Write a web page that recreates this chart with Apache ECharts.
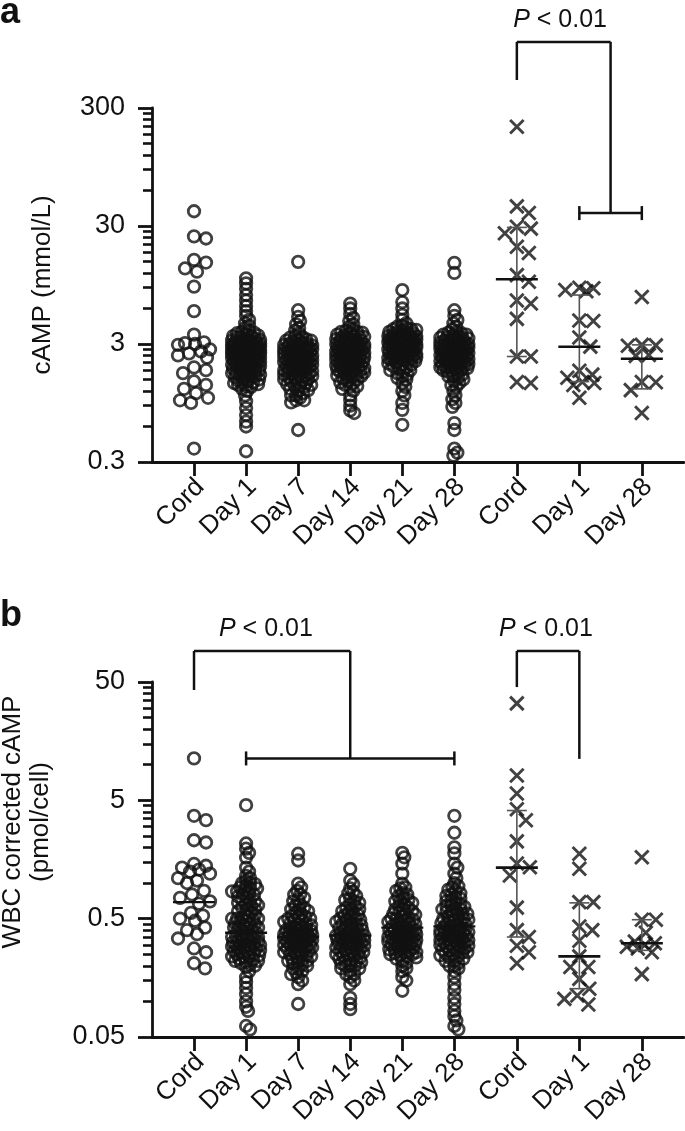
<!DOCTYPE html>
<html><head><meta charset="utf-8">
<script src="https://cdn.jsdelivr.net/npm/echarts@6/dist/echarts.min.js"></script>
<style>html,body{margin:0;padding:0;background:#fff}#c{width:685px;height:1131px}</style>
</head><body><div id="c"></div>
<script>
// ---------- data ----------
const categories = ['Cord','Day 1','Day 7','Day 14','Day 21','Day 28','Cord','Day 1','Day 28'];
const catPos = [0,1,2,3,4,5,6.2,7.4,8.6];
const yTicksA = [0.3,3,30,300];
const yTickLabelsA = ['0.3','3','30','300'];
const yTicksB = [0.05,0.5,5,50];
const yTickLabelsB = ['0.05','0.5','5','50'];
const yNameA = 'cAMP (mmol/L)';
const yNameB = 'WBC corrected cAMP\n(pmol/cell)';
const pText = 'P < 0.01';

// Panel a: cAMP (mmol/L), open circles
const aCord = [40,24.5,23.5,15.5,14.7,13.1,12.3,9.2,5.7,3.6,3.1,3.05,3.0,2.95,2.7,2.6,2.5,2.4,2.3,1.9,1.8,1.7,1.45,1.35,1.25,1.15,1.05,1.0,0.95,0.39];
const aDay1 = [10.8,9.8,8.8,7.8,7.0,6.3,5.7,5.2,4.8,4.5,4.3,4.1,3.9,3.8,3.7,3.6,3.5,3.45,3.4,3.3,3.25,3.2,3.15,3.1,3.05,3.0,2.95,2.9,2.85,2.8,2.75,2.7,2.65,2.6,2.55,2.5,2.45,2.4,2.35,2.3,2.25,2.2,2.15,2.1,2.05,2.0,1.95,1.9,1.85,1.8,1.75,1.7,1.65,1.6,1.55,1.5,1.45,1.4,1.35,1.3,1.25,1.2,1.1,0.98,0.86,0.75,0.66,0.6,0.37,3.0,2.9,2.8,2.7,2.6,2.5,2.4,2.3,2.2,2.1,2.0,1.9,1.8,2.75,2.45,2.15,3.2,3.5,1.6,1.4,2.55,2.35,1.7,
  3.75,3.55,3.35,3.22,3.12,3.02,2.97,2.92,2.87,2.82,2.77,2.72,2.67,2.62,2.57,2.52,2.47,2.42,2.37,2.32,2.27,2.22,2.17,2.12,2.07,2.02,1.97,1.92,1.87,1.82,1.77,1.72,1.67,1.62,1.57,1.52,1.47,1.42,1.37,1.32];
const aDay7 = [14.9,5.8,5.1,4.7,4.4,4.1,3.9,3.7,3.5,3.4,3.3,3.2,3.1,3.0,2.95,2.9,2.85,2.8,2.75,2.7,2.65,2.6,2.55,2.5,2.45,2.4,2.35,2.3,2.25,2.2,2.15,2.1,2.05,2.0,1.95,1.9,1.85,1.8,1.75,1.7,1.65,1.6,1.55,1.5,1.45,1.4,1.35,1.3,1.25,1.2,1.15,1.1,1.05,1.0,0.96,0.56,3.0,2.8,2.6,2.4,2.2,2.0,1.8,2.7,2.3,1.9,2.5,2.1,1.6,1.3,1.1,1.0,3.2,1.7,
  3.45,3.25,3.12,3.02,2.92,2.82,2.72,2.62,2.57,2.52,2.42,2.37,2.32,2.27,2.22,2.17,2.12,2.07,2.02,1.97,1.92,1.87,1.82,1.77,1.72,1.67,1.62,1.57,1.52,1.47,1.42,1.37,1.32,1.22,2.47,2.67];
const aDay14 = [6.6,6.0,5.4,5.0,4.7,4.4,4.2,4.0,3.9,3.8,3.7,3.6,3.5,3.4,3.3,3.2,3.1,3.0,2.95,2.9,2.85,2.8,2.75,2.7,2.65,2.6,2.55,2.5,2.45,2.4,2.35,2.3,2.25,2.2,2.15,2.1,2.05,2.0,1.95,1.9,1.85,1.8,1.75,1.7,1.65,1.6,1.55,1.5,1.45,1.4,1.35,1.3,1.25,1.2,1.1,1.0,0.9,0.82,0.78,3.5,3.2,3.0,2.8,2.6,2.4,2.2,2.0,1.8,1.6,2.9,2.7,2.5,2.3,2.1,1.9,3.8,1.7,3.3,
  3.75,3.55,3.45,3.35,3.25,3.15,3.05,2.97,2.92,2.87,2.82,2.77,2.72,2.67,2.62,2.57,2.52,2.47,2.42,2.37,2.32,2.27,2.22,2.17,2.12,2.07,2.02,1.97,1.92,1.87,1.82,1.77,1.72,1.62,1.52,1.42,1.32];
const aDay21 = [8.6,6.8,6.0,5.3,4.8,4.5,4.3,4.1,4.0,3.9,3.8,3.7,3.6,3.5,3.45,3.4,3.35,3.3,3.25,3.2,3.15,3.1,3.05,3.0,2.95,2.9,2.85,2.8,2.75,2.7,2.65,2.6,2.55,2.5,2.45,2.4,2.35,2.3,2.25,2.2,2.1,2.0,1.9,1.8,1.7,1.6,1.5,1.4,1.3,1.2,1.1,0.95,0.83,0.62,3.5,3.3,3.1,2.9,2.7,2.5,2.3,3.8,3.0,2.8,2.6,2.4,2.2,2.0,1.8,3.2,3.6,4.0,2.1,
  4.2,3.95,3.75,3.65,3.55,3.42,3.37,3.32,3.27,3.22,3.17,3.12,3.07,3.02,2.97,2.92,2.87,2.82,2.77,2.72,2.67,2.62,2.57,2.52,2.47,2.42,2.37,2.32,2.27,2.22,2.15,2.05,1.95,1.85,1.75,1.65,1.55];
const aDay28 = [14.6,12.0,5.8,5.2,4.8,4.5,4.2,4.0,3.8,3.7,3.6,3.5,3.4,3.3,3.2,3.1,3.0,2.95,2.9,2.85,2.8,2.75,2.7,2.65,2.6,2.55,2.5,2.45,2.4,2.35,2.3,2.25,2.2,2.15,2.1,2.05,2.0,1.95,1.9,1.85,1.8,1.7,1.6,1.5,1.4,1.3,1.2,1.1,1.02,0.95,0.88,0.64,0.56,0.39,0.36,0.34,3.4,3.2,3.0,2.8,2.6,2.4,2.2,2.0,3.0,2.7,2.5,2.3,2.1,1.9,3.6,1.8,1.6,
  3.75,3.55,3.45,3.35,3.25,3.15,3.05,2.97,2.92,2.87,2.82,2.77,2.72,2.67,2.62,2.57,2.52,2.47,2.42,2.37,2.32,2.27,2.22,2.17,2.12,2.07,2.02,1.97,1.92,1.87,1.82,1.75,1.65,1.55,1.45,1.35];
// Panel a: crosses (second cohort)
const aCordX = [208,44,38.7,29.6,28.5,26,20,17.7,11.5,10.1,7.0,6.6,4.9,2.35,2.35,1.4,1.43];
const aDay1X = [9.0,8.9,8.6,8.4,4.75,4.7,3.4,2.85,1.78,1.65,1.55,1.43,1.4,1.35,1.05];
const aDay28X = [7.5,2.95,2.92,2.9,2.42,2.38,1.43,1.42,1.22,0.78];
// medians with interquartile range [position, median, low, high]
const aSummary = [[6.2,10.6,2.35,29.2],[7.4,2.84,1.44,7.8],[8.6,2.25,1.25,2.95]];

// Panel b: WBC corrected cAMP (pmol/cell)
const bCord = [11.3,3.7,3.4,2.3,2.2,1.45,1.4,1.35,1.3,1.25,1.2,1.1,1.05,1.0,0.86,0.8,0.75,0.7,0.67,0.56,0.53,0.5,0.48,0.42,0.4,0.37,0.34,0.28,0.26,0.21,0.19];
const bDay1 = [4.55,2.16,1.95,1.8,1.64,1.35,1.25,1.15,1.1,1.05,1.0,0.95,0.9,0.85,0.8,0.75,0.7,0.66,0.62,0.58,0.55,0.52,0.5,0.48,0.46,0.44,0.42,0.4,0.38,0.36,0.35,0.34,0.32,0.31,0.3,0.29,0.28,0.27,0.26,0.25,0.24,0.23,0.22,0.21,0.2,0.18,0.16,0.145,0.13,0.115,0.1,0.09,0.083,0.062,0.058,1.0,0.9,0.8,0.7,0.6,0.5,0.45,0.4,0.35,0.3,0.28,0.26,0.24,0.5,0.42,0.36,0.32,0.3,0.22,0.85,0.65,
  0.98,0.92,0.87,0.82,0.77,0.72,0.68,0.64,0.6,0.57,0.54,0.51,0.49,0.47,0.45,0.43,0.41,0.39,0.37,0.355,0.345,0.335,0.325,0.315,0.305,0.295,0.285,0.275,0.265,0.255,0.245,0.235,0.225,0.215,0.205,0.195];
const bDay7 = [1.77,1.55,0.99,0.92,0.86,0.8,0.75,0.7,0.66,0.62,0.58,0.55,0.52,0.5,0.48,0.46,0.44,0.42,0.4,0.39,0.38,0.37,0.36,0.35,0.34,0.33,0.32,0.31,0.3,0.29,0.28,0.27,0.26,0.25,0.24,0.23,0.22,0.21,0.2,0.19,0.18,0.17,0.16,0.15,0.14,0.095,0.5,0.45,0.4,0.36,0.33,0.3,0.27,0.25,0.42,0.38,0.35,0.32,0.29,0.6,0.22,0.8,
  0.72,0.64,0.6,0.56,0.53,0.51,0.49,0.47,0.45,0.43,0.41,0.395,0.385,0.375,0.365,0.355,0.345,0.335,0.325,0.315,0.305,0.295,0.285,0.275,0.265,0.255,0.245,0.235,0.225,0.215,0.205,0.19,0.175];
const bDay14 = [1.32,1.05,0.98,0.9,0.84,0.78,0.72,0.68,0.64,0.6,0.56,0.53,0.5,0.48,0.46,0.44,0.42,0.4,0.38,0.36,0.35,0.34,0.33,0.32,0.31,0.3,0.29,0.28,0.27,0.26,0.25,0.24,0.23,0.22,0.21,0.2,0.19,0.18,0.17,0.16,0.15,0.14,0.107,0.095,0.086,0.55,0.5,0.45,0.4,0.37,0.34,0.31,0.28,0.25,0.22,0.6,0.42,0.36,0.3,0.26,0.7,0.2,
  0.82,0.74,0.66,0.62,0.58,0.54,0.51,0.49,0.47,0.45,0.43,0.41,0.39,0.375,0.365,0.355,0.345,0.335,0.325,0.315,0.305,0.295,0.285,0.275,0.265,0.255,0.245,0.235,0.225,0.215,0.205,0.19,0.17];
const bDay21 = [1.8,1.65,1.46,1.2,0.99,0.92,0.86,0.8,0.75,0.7,0.66,0.62,0.58,0.55,0.52,0.5,0.48,0.46,0.44,0.42,0.4,0.39,0.38,0.37,0.36,0.35,0.34,0.33,0.32,0.31,0.3,0.29,0.28,0.27,0.26,0.25,0.24,0.23,0.22,0.2,0.18,0.16,0.15,0.123,0.6,0.55,0.5,0.45,0.42,0.4,0.38,0.35,0.32,0.3,0.28,0.26,0.48,0.36,0.33,0.7,0.25,
  0.9,0.82,0.77,0.72,0.68,0.64,0.6,0.57,0.54,0.51,0.49,0.47,0.45,0.43,0.41,0.395,0.385,0.375,0.365,0.355,0.345,0.335,0.325,0.315,0.305,0.295,0.285,0.275,0.265,0.255,0.245,0.235,0.21,0.19];
const bDay28 = [3.7,2.66,2.0,1.78,1.46,1.35,1.2,1.1,1.0,0.94,0.88,0.82,0.78,0.74,0.7,0.66,0.63,0.6,0.57,0.55,0.52,0.5,0.48,0.46,0.44,0.42,0.4,0.39,0.38,0.37,0.36,0.35,0.34,0.33,0.32,0.31,0.3,0.29,0.28,0.27,0.26,0.25,0.24,0.23,0.22,0.21,0.2,0.19,0.18,0.16,0.14,0.125,0.107,0.095,0.083,0.075,0.069,0.062,0.058,0.6,0.55,0.5,0.45,0.42,0.4,0.37,0.35,0.33,0.3,0.28,0.48,0.38,0.65,0.26,
  0.92,0.85,0.8,0.76,0.72,0.68,0.64,0.61,0.58,0.56,0.53,0.51,0.49,0.47,0.45,0.43,0.41,0.395,0.385,0.375,0.365,0.355,0.345,0.335,0.325,0.315,0.305,0.295,0.285,0.275,0.265,0.255,0.245,0.235,0.22,0.2];
const bCordX = [33,8.1,5.7,4.2,3.4,2.25,1.46,1.36,1.16,0.62,0.4,0.35,0.295,0.26,0.21];
const bDay1X = [1.77,1.32,0.69,0.69,0.43,0.4,0.325,0.24,0.195,0.195,0.155,0.128,0.112,0.105,0.094];
const bDay28X = [1.65,0.49,0.49,0.38,0.32,0.31,0.3,0.29,0.28,0.26,0.17];
const bSummary = [[6.2,1.35,0.35,4.1],[7.4,0.24,0.128,0.68],[8.6,0.31,0.27,0.49]];
const bMedians = [[0,0.69],[1,0.38],[2,0.35],[3,0.36],[4,0.42],[5,0.43]];

// significance brackets: segments [x1, y1, x2, y2, endCaps]
const bracketA = [[6.2,518,6.2,1090,0],[6.2,1090,8.0,1090,0],[8.0,1090,8.0,38.6,0],[7.4,38.6,8.6,38.6,1]];
const bracketB1 = [[0,42.8,0,91.4,0],[0,91.4,3,91.4,0],[3,91.4,3,11.3,0],[1,11.3,5,11.3,1]];
const bracketB2 = [[6.2,45.3,6.2,91.4,0],[6.2,91.4,7.4,91.4,0],[7.4,91.4,7.4,11.2,0]];
const pLabelA = [7.03];
const pLabelB = [1.38, 6.76];

// ---------- chart ----------
const FONT = '"Liberation Sans", Arial, Helvetica, sans-serif';
const INK = '#111';
const LABEL_SHIFT = 0.12; // category label anchor sits slightly right of its tick
const chart = echarts.init(document.getElementById('c'), null, {renderer:'canvas'});
const L10 = Math.log10;
function minors(ticks){const m=[];for(let i=0;i<ticks.length-1;i++){for(let k=2;k<=9;k++)m.push(L10(ticks[i]*k));}return m;}
function labelFmt(ticks, labels){return v=>{for(let i=0;i<ticks.length;i++){if(Math.abs(L10(ticks[i])-v)<1e-6)return labels[i];}return '';};}

const grids = [
  {left:152, right:1, top:108, bottom:669},
  {left:152, right:1, top:682, bottom:94}
];
function xAxisFor(g){
  const labelPos = catPos.map(p=>p+LABEL_SHIFT);
  return {type:'value', gridIndex:g, min:-0.807, max:9.41, position:'bottom',
    axisLine:{show:true, onZero:false, lineStyle:{color:INK, width:2.8}},
    axisTick:{show:true, customValues:catPos, length:14, lineStyle:{color:INK, width:2.8}},
    axisLabel:{show:true, customValues:labelPos, rotate:45, margin:21, fontSize:26, fontFamily:FONT, color:INK,
      formatter:v=>{const i=labelPos.findIndex(p=>Math.abs(p-v)<1e-6);return i>=0?categories[i]:'';}},
    splitLine:{show:false}};
}
function yAxesFor(g, ticks, labels){
  const lo=ticks[0], hi=ticks[ticks.length-1];
  return [
    {type:'log', logBase:10, gridIndex:g, min:lo, max:hi, position:'left',
      axisLine:{show:true, onZero:false, lineStyle:{color:INK, width:2.8}}, axisTick:{show:false}, axisLabel:{show:false}, splitLine:{show:false}},
    {type:'value', gridIndex:g, min:L10(lo), max:L10(hi), position:'left',
      axisLine:{show:false, onZero:false}, splitLine:{show:false},
      axisTick:{show:true, customValues:ticks.map(L10), length:14, lineStyle:{color:INK, width:2.8}},
      axisLabel:{show:true, customValues:ticks.map(L10), margin:27, fontSize:27, fontFamily:FONT, color:INK, formatter:labelFmt(ticks, labels)}},
    {type:'value', gridIndex:g, min:L10(lo), max:L10(hi), position:'left',
      axisLine:{show:false, onZero:false}, splitLine:{show:false}, axisLabel:{show:false},
      axisTick:{show:true, customValues:minors(ticks), length:9, lineStyle:{color:INK, width:2.6}}}
  ];
}
const base = {
  animation:false,
  backgroundColor:'#fff',
  grid:grids,
  xAxis:[xAxisFor(0), xAxisFor(1)],
  yAxis:[...yAxesFor(0,yTicksA,yTickLabelsA), ...yAxesFor(1,yTicksB,yTickLabelsB)],
  series:[]
};
chart.setOption(base);

const FA = {xAxisIndex:0, yAxisIndex:0};
const FB = {xAxisIndex:1, yAxisIndex:3};

function swarm(finder, xc, vals, maxOff, d, step){
  const x0 = chart.convertToPixel(finder,[xc,vals[0]])[0];
  const unit = chart.convertToPixel(finder,[xc+1,vals[0]])[0]-x0;
  const ys = vals.map(v=>chart.convertToPixel(finder,[xc,v])[1]);
  const order = vals.map((v,i)=>i).sort((a,b)=>(ys[a]-ys[b])||(a-b));
  const placed=[]; const out=new Array(vals.length);
  for(const i of order){
    const y=ys[i]; let chosen=null, bestO=0, bestD=-1;
    for(let k=0;;k++){
      const o=(k%2===1?1:-1)*Math.ceil(k/2)*step;
      if(Math.abs(o)>maxOff)break;
      let md=Infinity;
      for(const p of placed){const dy=y-p.y; if(Math.abs(dy)<d){const dd=Math.hypot(o-p.o,dy); if(dd<md)md=dd;}}
      if(md>=d){chosen=o;break;}
      if(md>bestD){bestD=md;bestO=o;}
    }
    if(chosen===null)chosen=bestO;
    placed.push({o:chosen,y});
    out[i]=[xc+chosen/unit, vals[i]];
  }
  return out;
}

const circleStyle = {color:'rgba(0,0,0,0)', borderColor:INK, borderWidth:2.8};
const crossStyle = {color:'rgba(0,0,0,0)', borderColor:INK, borderWidth:2.9};
const CROSS = 'path://M0,0L10,10M10,0L0,10';

function circles(finder, groups){
  let pts=[];
  groups.forEach((vals,i)=>{
    const sparse = i===0;
    pts = pts.concat(swarm(finder, catPos[i], vals, sparse?16:14.5, sparse?12:4.6, 1));
  });
  return pts;
}
function crosses(finder, groups){
  let pts=[];
  groups.forEach((vals,i)=>{ pts = pts.concat(swarm(finder, catPos[6+i], vals, 15, 13.5, 1)); });
  return pts;
}

function summaryRender(params, api){
  const x=api.value(0), m=api.value(1), lo=api.value(2), hi=api.value(3);
  const pm=api.coord([x,m]), pl=api.coord([x,lo]), ph=api.coord([x,hi]);
  const ws={stroke:'#555', lineWidth:1.6};
  return {type:'group', children:[
    {type:'line', shape:{x1:pl[0],y1:pl[1],x2:ph[0],y2:ph[1]}, style:ws},
    {type:'line', shape:{x1:pl[0]-10,y1:pl[1],x2:pl[0]+10,y2:pl[1]}, style:ws},
    {type:'line', shape:{x1:ph[0]-10,y1:ph[1],x2:ph[0]+10,y2:ph[1]}, style:ws},
    {type:'line', shape:{x1:pm[0]-21,y1:pm[1],x2:pm[0]+21,y2:pm[1]}, style:{stroke:INK, lineWidth:2.6}}
  ]};
}
function medianRender(params, api){
  const pm=api.coord([api.value(0),api.value(1)]);
  return {type:'line', shape:{x1:pm[0]-21,y1:pm[1],x2:pm[0]+21,y2:pm[1]}, style:{stroke:INK, lineWidth:2.4}};
}
function bracketRender(params, api){
  const p1=api.coord([api.value(0),api.value(1)]), p2=api.coord([api.value(2),api.value(3)]);
  const st={stroke:INK, lineWidth:2.5};
  const ch=[{type:'line', shape:{x1:p1[0],y1:p1[1],x2:p2[0],y2:p2[1]}, style:st}];
  if(api.value(4)===1){
    ch.push({type:'line', shape:{x1:p1[0],y1:p1[1]-7,x2:p1[0],y2:p1[1]+7}, style:st});
    ch.push({type:'line', shape:{x1:p2[0],y1:p2[1]-7,x2:p2[0],y2:p2[1]+7}, style:st});
  }
  return {type:'group', children:ch};
}

const series = [
  {type:'scatter', xAxisIndex:0, yAxisIndex:0, symbol:'circle', symbolSize:11.5, silent:true, itemStyle:circleStyle,
    data:circles(FA,[aCord,aDay1,aDay7,aDay14,aDay21,aDay28])},
  {type:'scatter', xAxisIndex:0, yAxisIndex:0, symbol:CROSS, symbolSize:13.5, silent:true, itemStyle:crossStyle,
    data:crosses(FA,[aCordX,aDay1X,aDay28X])},
  {type:'custom', xAxisIndex:0, yAxisIndex:0, silent:true, renderItem:summaryRender, encode:{x:0,y:[1,2,3]}, data:aSummary, z:5},
  {type:'custom', xAxisIndex:0, yAxisIndex:0, silent:true, renderItem:bracketRender, encode:{x:[0,2],y:[1,3]}, data:bracketA, clip:false, z:5},

  {type:'scatter', xAxisIndex:1, yAxisIndex:3, symbol:'circle', symbolSize:11.5, silent:true, itemStyle:circleStyle,
    data:circles(FB,[bCord,bDay1,bDay7,bDay14,bDay21,bDay28])},
  {type:'scatter', xAxisIndex:1, yAxisIndex:3, symbol:CROSS, symbolSize:13.5, silent:true, itemStyle:crossStyle,
    data:crosses(FB,[bCordX,bDay1X,bDay28X])},
  {type:'custom', xAxisIndex:1, yAxisIndex:3, silent:true, renderItem:summaryRender, encode:{x:0,y:[1,2,3]}, data:bSummary, z:5},
  {type:'custom', xAxisIndex:1, yAxisIndex:3, silent:true, renderItem:medianRender, encode:{x:0,y:1}, data:bMedians, z:5},
  {type:'custom', xAxisIndex:1, yAxisIndex:3, silent:true, renderItem:bracketRender, encode:{x:[0,2],y:[1,3]}, data:bracketB1.concat(bracketB2), clip:false, z:5}
];

function pLabel(finder, x, topVal){
  const p = chart.convertToPixel(finder,[x, topVal]);
  return {type:'text', x:p[0], y:p[1]-22, silent:true,
    style:{text:'{i|P}{n|'+pText.slice(1)+'}', rich:{i:{fontStyle:'italic', fontSize:25, fontFamily:FONT, fill:INK}, n:{fontSize:25, fontFamily:FONT, fill:INK}},
      align:'center', verticalAlign:'middle', textAlign:'center', textVerticalAlign:'middle'}};
}
const yA0 = chart.convertToPixel(FA,[0,yTicksA[0]])[1], yA1 = chart.convertToPixel(FA,[0,yTicksA[3]])[1];
const graphic = [
  {type:'text', x:0, y:13, silent:true, style:{text:'a', fontSize:36, fontWeight:'bold', fontFamily:FONT, fill:INK, textVerticalAlign:'middle'}},
  {type:'text', x:0, y:616, silent:true, style:{text:'b', fontSize:36, fontWeight:'bold', fontFamily:FONT, fill:INK, textVerticalAlign:'middle'}},
  {type:'text', x:43, y:(yA0+yA1)/2, rotation:Math.PI/2, silent:true,
    style:{text:yNameA, fontSize:26, fontFamily:FONT, fill:INK, textAlign:'center', textVerticalAlign:'middle'}},
  {type:'text', x:27, y:822, rotation:Math.PI/2, silent:true,
    style:{text:yNameB, fontSize:26, lineHeight:28, fontFamily:FONT, fill:INK, textAlign:'center', textVerticalAlign:'middle'}},
  pLabel(FA, pLabelA[0], bracketA[1][1]),
  pLabel(FB, pLabelB[0], bracketB1[1][1]),
  pLabel(FB, pLabelB[1], bracketB2[1][1])
];
chart.setOption({series, graphic});
</script>
</body></html>
